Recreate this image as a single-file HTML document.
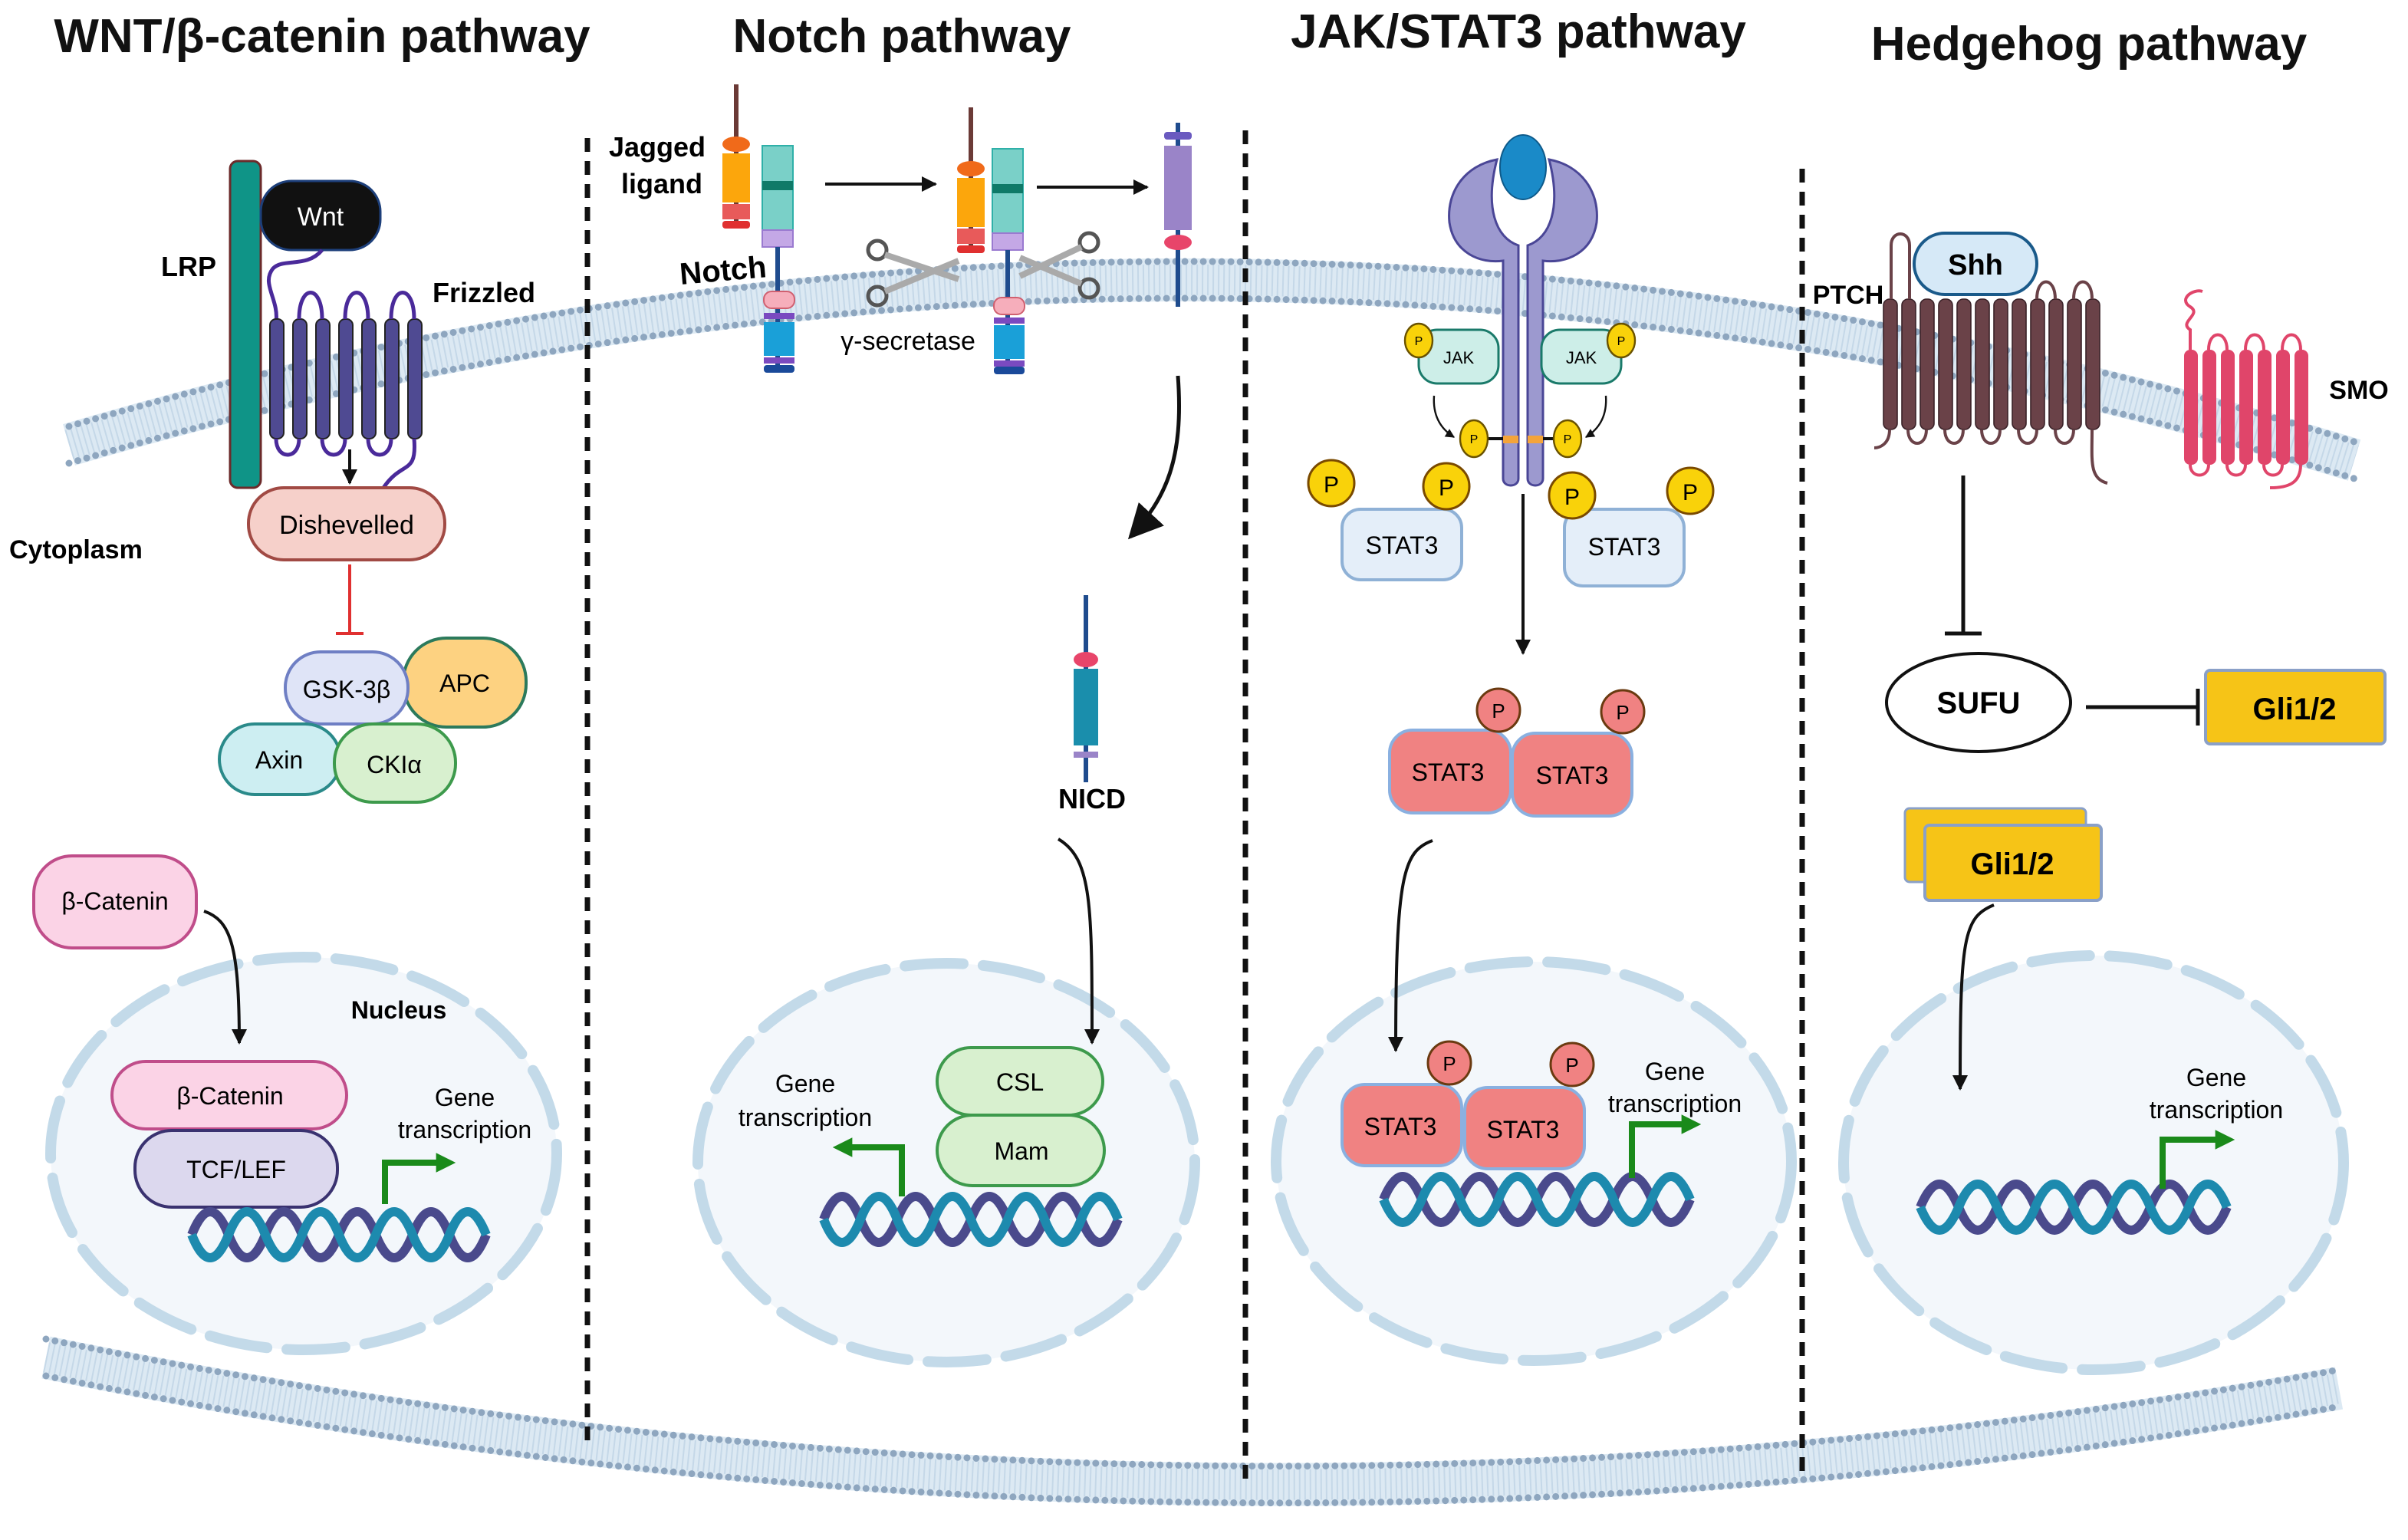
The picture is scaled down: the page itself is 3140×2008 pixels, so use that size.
<!DOCTYPE html>
<html><head><meta charset="utf-8"><style>
html,body{margin:0;padding:0;background:#fff}
svg{display:block}
text{font-family:"Liberation Sans",sans-serif}
</style></head><body>
<svg width="3140" height="2008" viewBox="0 0 1570 1004" xmlns="http://www.w3.org/2000/svg">
<defs>
<marker id="ah" viewBox="0 0 10 10" refX="9" refY="5" markerWidth="5" markerHeight="5" orient="auto"><path d="M0,0L10,5L0,10z" fill="#111"/></marker>
<marker id="ahb" viewBox="0 0 10 10" refX="9" refY="5" markerWidth="9" markerHeight="9" orient="auto"><path d="M0,0L10,5L0,10z" fill="#111"/></marker>
<marker id="ag" viewBox="0 0 10 10" refX="6" refY="5" markerWidth="3.2" markerHeight="3.2" orient="auto"><path d="M0,0L10,5L0,10z" fill="#1a8a1a"/></marker>
</defs>

<!-- membranes -->
<g fill="none">
<path d="M45,290 Q790,70 1535,300" stroke="#dce9f3" stroke-width="28"/>
<path d="M45,290 Q790,70 1535,300" stroke="#c5d8e8" stroke-width="20" stroke-dasharray="1 2.5"/>
<path d="M45,278 Q790,58 1535,288" stroke="#8ea6bf" stroke-width="4.5" stroke-dasharray="0 6" stroke-linecap="round"/>
<path d="M45,302 Q790,82 1535,312" stroke="#8ea6bf" stroke-width="4.5" stroke-dasharray="0 6" stroke-linecap="round"/>
<path d="M30,885 Q790,1040 1525,905" stroke="#dce9f3" stroke-width="28"/>
<path d="M30,885 Q790,1040 1525,905" stroke="#c5d8e8" stroke-width="20" stroke-dasharray="1 2.5"/>
<path d="M30,873 Q790,1028 1525,893" stroke="#8ea6bf" stroke-width="4.5" stroke-dasharray="0 6" stroke-linecap="round"/>
<path d="M30,897 Q790,1052 1525,917" stroke="#8ea6bf" stroke-width="4.5" stroke-dasharray="0 6" stroke-linecap="round"/>
</g>

<!-- dashed separators -->
<g stroke="#111" stroke-width="3.5" stroke-dasharray="9 6">
<line x1="383" y1="90" x2="383" y2="940"/>
<line x1="812" y1="85" x2="812" y2="965"/>
<line x1="1175" y1="110" x2="1175" y2="965"/>
</g>

<!-- titles -->
<g font-weight="bold" font-size="31" text-anchor="middle" fill="#111">
<text x="210" y="34">WNT/β-catenin pathway</text>
<text x="588" y="34">Notch pathway</text>
<text x="990" y="31">JAK/STAT3 pathway</text>
<text x="1362" y="39">Hedgehog pathway</text>
</g>

<!-- nuclei -->
<g fill="#f3f7fb" stroke="#c3dae9" stroke-width="7" stroke-dasharray="38 13" stroke-linecap="round">
<ellipse cx="198" cy="752" rx="165" ry="128"/>
<ellipse cx="617" cy="758" rx="162" ry="130"/>
<ellipse cx="1000" cy="757" rx="168" ry="130"/>
<ellipse cx="1365" cy="758" rx="163" ry="135"/>
</g>

<!-- ===== WNT ===== -->
<rect x="150" y="105" width="20" height="213" rx="5" fill="#0f9487" stroke="#6b2a2a" stroke-width="1.5"/>
<rect x="170" y="118" width="78" height="45" rx="20" fill="#111" stroke="#1d3f7a" stroke-width="1.5"/>
<text x="209" y="147" font-size="17" fill="#fff" text-anchor="middle">Wnt</text>
<path d="M210,163 C200,175 185,168 178,175 C170,185 182,195 180,210" fill="none" stroke="#4a2a9a" stroke-width="2.5"/>
<g fill="#4f4a92" stroke="#222" stroke-width="1">
<rect x="176" y="208" width="9" height="78" rx="4"/>
<rect x="191" y="208" width="9" height="78" rx="4"/>
<rect x="206" y="208" width="9" height="78" rx="4"/>
<rect x="221" y="208" width="9" height="78" rx="4"/>
<rect x="236" y="208" width="9" height="78" rx="4"/>
<rect x="251" y="208" width="9" height="78" rx="4"/>
<rect x="266" y="208" width="9" height="78" rx="4"/>
</g>
<g fill="none" stroke="#4a2a9a" stroke-width="2.5">
<path d="M195,208 C195,185 210,185 210,208"/>
<path d="M225,208 C225,185 240,185 240,208"/>
<path d="M255,208 C255,185 270,185 270,208"/>
<path d="M180,286 C180,300 195,300 195,286"/>
<path d="M210,286 C210,300 225,300 225,286"/>
<path d="M240,286 C240,300 255,300 255,286"/>
<path d="M270,286 C272,310 262,300 250,318"/>
</g>
<text x="123" y="180" font-size="18" font-weight="bold" text-anchor="middle">LRP</text>
<text x="282" y="197" font-size="18" font-weight="bold">Frizzled</text>
<text x="6" y="364" font-size="17" font-weight="bold">Cytoplasm</text>
<line x1="228" y1="293" x2="228" y2="315" stroke="#111" stroke-width="2" marker-end="url(#ah)"/>
<rect x="162" y="318" width="128" height="47" rx="23" fill="#f6d0ca" stroke="#a14a44" stroke-width="2"/>
<text x="226" y="348" font-size="17" text-anchor="middle">Dishevelled</text>
<line x1="228" y1="368" x2="228" y2="413" stroke="#e03030" stroke-width="2"/>
<line x1="219" y1="413" x2="237" y2="413" stroke="#e03030" stroke-width="2"/>
<rect x="263" y="416" width="80" height="58" rx="28" fill="#fdd281" stroke="#2c7a5c" stroke-width="2"/>
<text x="303" y="451" font-size="16" text-anchor="middle">APC</text>
<rect x="186" y="425" width="80" height="47" rx="23" fill="#dfe4f7" stroke="#6f7fc4" stroke-width="2"/>
<text x="226" y="455" font-size="16" text-anchor="middle">GSK-3β</text>
<rect x="143" y="472" width="79" height="46" rx="23" fill="#cdeef2" stroke="#2a8a8a" stroke-width="2"/>
<text x="182" y="501" font-size="16" text-anchor="middle">Axin</text>
<rect x="218" y="472" width="79" height="51" rx="25" fill="#d8f0cf" stroke="#3d9a4c" stroke-width="2"/>
<text x="257" y="504" font-size="16" text-anchor="middle">CKIα</text>
<rect x="22" y="558" width="106" height="60" rx="25" fill="#fbd3e6" stroke="#c04d8a" stroke-width="2"/>
<text x="75" y="593" font-size="16" text-anchor="middle">β-Catenin</text>
<path d="M133,594 C150,600 156,615 156,680" fill="none" stroke="#111" stroke-width="2" marker-end="url(#ah)"/>
<text x="260" y="664" font-size="16" font-weight="bold" text-anchor="middle">Nucleus</text>
<rect x="73" y="692" width="153" height="44" rx="22" fill="#fbd3e6" stroke="#c04d8a" stroke-width="2"/>
<text x="150" y="720" font-size="16" text-anchor="middle">β-Catenin</text>
<rect x="88" y="737" width="132" height="50" rx="24" fill="#dcd8ee" stroke="#3a3270" stroke-width="2"/>
<text x="154" y="768" font-size="16" text-anchor="middle">TCF/LEF</text>
<text x="303" y="721" font-size="16" text-anchor="middle">Gene</text>
<text x="303" y="742" font-size="16" text-anchor="middle">transcription</text>
<path d="M251,785 V758 H292" fill="none" stroke="#1a8a1a" stroke-width="4" marker-end="url(#ag)"/>

<!-- DNA -->
<g fill="none" stroke-width="6">
<path d="M125,805 q12,-30 24,0 t24,0 t24,0 t24,0 t24,0 t24,0 t24,0 t24,0" stroke="#4a4a8c"/>
<path d="M125,805 q12,30 24,0 t24,0 t24,0 t24,0 t24,0 t24,0 t24,0 t24,0" stroke="#1d8aae"/>
<path d="M537,795 q12,-30 24,0 t24,0 t24,0 t24,0 t24,0 t24,0 t24,0 t24,0" stroke="#4a4a8c"/>
<path d="M537,795 q12,30 24,0 t24,0 t24,0 t24,0 t24,0 t24,0 t24,0 t24,0" stroke="#1d8aae"/>
<path d="M902,782 q12.5,-30 25,0 t25,0 t25,0 t25,0 t25,0 t25,0 t25,0 t25,0" stroke="#4a4a8c"/>
<path d="M902,782 q12.5,30 25,0 t25,0 t25,0 t25,0 t25,0 t25,0 t25,0 t25,0" stroke="#1d8aae"/>
<path d="M1252,787 q12.5,-30 25,0 t25,0 t25,0 t25,0 t25,0 t25,0 t25,0 t25,0" stroke="#4a4a8c"/>
<path d="M1252,787 q12.5,30 25,0 t25,0 t25,0 t25,0 t25,0 t25,0 t25,0 t25,0" stroke="#1d8aae"/>
</g>

<!-- ===== NOTCH ===== -->
<text x="460" y="102" font-size="18" font-weight="bold" text-anchor="end">Jagged</text>
<text x="458" y="126" font-size="18" font-weight="bold" text-anchor="end">ligand</text>
<text x="472" y="183" font-size="20" font-weight="bold" text-anchor="middle" transform="rotate(-5 472 183)">Notch</text>
<text x="592" y="228" font-size="17" text-anchor="middle">γ-secretase</text>
<line x1="480" y1="55" x2="480" y2="148" stroke="#6b3a36" stroke-width="3"/>
<ellipse cx="480" cy="94" rx="9" ry="5" fill="#f06a1a"/>
<rect x="471" y="100" width="18" height="32" fill="#fca60c"/>
<rect x="471" y="133" width="18" height="10" fill="#e85a5a"/>
<rect x="471" y="144" width="18" height="5" rx="2" fill="#e03030"/>
<rect x="497" y="95" width="20" height="60" fill="#7ad0c8" stroke="#2fb0a8"/>
<rect x="497" y="118" width="20" height="6" fill="#0f7a68"/>
<rect x="497" y="150" width="20" height="11" fill="#c4a8e6" stroke="#9a7ad0"/>
<line x1="507" y1="161" x2="507" y2="243" stroke="#1f4c8e" stroke-width="3"/>
<rect x="498" y="190" width="20" height="11" rx="5" fill="#f6aebb" stroke="#d06070"/>
<rect x="498" y="204" width="20" height="4" fill="#7a4ac0"/>
<rect x="498" y="210" width="20" height="22" fill="#1aa0d8"/>
<rect x="498" y="233" width="20" height="4" fill="#7a4ac0"/>
<rect x="498" y="238" width="20" height="5" rx="2" fill="#1a4a9a"/>
<line x1="538" y1="120" x2="610" y2="120" stroke="#111" stroke-width="2" marker-end="url(#ah)"/>
<line x1="633" y1="70" x2="633" y2="165" stroke="#6b3a36" stroke-width="3"/>
<ellipse cx="633" cy="110" rx="9" ry="5" fill="#f06a1a"/>
<rect x="624" y="116" width="18" height="32" fill="#fca60c"/>
<rect x="624" y="149" width="18" height="10" fill="#e85a5a"/>
<rect x="624" y="160" width="18" height="5" rx="2" fill="#e03030"/>
<rect x="647" y="97" width="20" height="60" fill="#7ad0c8" stroke="#2fb0a8"/>
<rect x="647" y="120" width="20" height="6" fill="#0f7a68"/>
<rect x="647" y="152" width="20" height="11" fill="#c4a8e6" stroke="#9a7ad0"/>
<line x1="657" y1="163" x2="657" y2="243" stroke="#1f4c8e" stroke-width="3"/>
<rect x="648" y="194" width="20" height="11" rx="5" fill="#f6aebb" stroke="#d06070"/>
<rect x="648" y="207" width="20" height="4" fill="#7a4ac0"/>
<rect x="648" y="212" width="20" height="22" fill="#1aa0d8"/>
<rect x="648" y="235" width="20" height="4" fill="#7a4ac0"/>
<rect x="648" y="239" width="20" height="5" rx="2" fill="#1a4a9a"/>
<g fill="none" stroke="#555" stroke-width="2.5">
<circle cx="572" cy="163" r="6"/><circle cx="572" cy="193" r="6"/>
<path d="M577,166 L625,182 M577,190 L625,170" stroke="#aaa" stroke-width="4"/>
<circle cx="710" cy="158" r="6"/><circle cx="710" cy="188" r="6"/>
<path d="M705,161 L665,180 M705,185 L665,168" stroke="#aaa" stroke-width="4"/>
</g>
<line x1="676" y1="122" x2="748" y2="122" stroke="#111" stroke-width="2" marker-end="url(#ah)"/>
<line x1="768" y1="80" x2="768" y2="200" stroke="#1f4c8e" stroke-width="3"/>
<rect x="759" y="86" width="18" height="5" rx="2" fill="#6a5ac0"/>
<rect x="759" y="95" width="18" height="55" fill="#9a84c8"/>
<ellipse cx="768" cy="158" rx="9" ry="5" fill="#e8456a"/>
<path d="M768,245 C772,300 760,325 737,350" fill="none" stroke="#111" stroke-width="2.5" marker-end="url(#ahb)"/>
<line x1="708" y1="388" x2="708" y2="510" stroke="#1f4c8e" stroke-width="3"/>
<ellipse cx="708" cy="430" rx="8" ry="5" fill="#e8456a"/>
<rect x="700" y="436" width="16" height="50" fill="#1a8eac"/>
<rect x="700" y="490" width="16" height="4" fill="#9a84c8"/>
<text x="712" y="527" font-size="18" font-weight="bold" text-anchor="middle">NICD</text>
<path d="M690,547 C712,560 712,590 712,680" fill="none" stroke="#111" stroke-width="2" marker-end="url(#ah)"/>
<rect x="611" y="683" width="108" height="44" rx="22" fill="#d8f0cf" stroke="#3d9a4c" stroke-width="2"/>
<text x="665" y="711" font-size="16" text-anchor="middle">CSL</text>
<rect x="611" y="727" width="109" height="46" rx="23" fill="#d8f0cf" stroke="#3d9a4c" stroke-width="2"/>
<text x="666" y="756" font-size="16" text-anchor="middle">Mam</text>
<text x="525" y="712" font-size="16" text-anchor="middle">Gene</text>
<text x="525" y="734" font-size="16" text-anchor="middle">transcription</text>
<path d="M588,780 V748 H548" fill="none" stroke="#1a8a1a" stroke-width="4" marker-end="url(#ag)"/>

<!-- ===== JAK/STAT3 ===== -->
<path d="M976,104 C955,108 943,125 945,145 C948,165 965,172 980,170 L980,312 C980,318 990,318 990,312 L990,160 C975,155 968,135 976,104 Z" fill="#9c99cf" stroke="#4a4696" stroke-width="1.5"/>
<path d="M1010,104 C1031,108 1043,125 1041,145 C1038,165 1021,172 1006,170 L1006,312 C1006,318 996,318 996,312 L996,160 C1011,155 1018,135 1010,104 Z" fill="#9c99cf" stroke="#4a4696" stroke-width="1.5"/>
<ellipse cx="993" cy="109" rx="15" ry="21" fill="#1a8ac8" stroke="#0e5a8a"/>
<rect x="980" y="284" width="10" height="5" fill="#f4a43a"/>
<rect x="996" y="284" width="10" height="5" fill="#f4a43a"/>
<line x1="966" y1="286" x2="980" y2="286" stroke="#111" stroke-width="2"/>
<line x1="1006" y1="286" x2="1020" y2="286" stroke="#111" stroke-width="2"/>
<rect x="925" y="215" width="52" height="35" rx="12" fill="#cdeee8" stroke="#1a7a6a" stroke-width="1.5"/>
<text x="951" y="237" font-size="11" text-anchor="middle">JAK</text>
<rect x="1005" y="215" width="52" height="35" rx="12" fill="#cdeee8" stroke="#1a7a6a" stroke-width="1.5"/>
<text x="1031" y="237" font-size="11" text-anchor="middle">JAK</text>
<g fill="#f9d20a" stroke="#6a5200" stroke-width="1.2">
<ellipse cx="925" cy="222" rx="9" ry="11"/><ellipse cx="1057" cy="222" rx="9" ry="11"/>
<ellipse cx="961" cy="286" rx="9" ry="12"/><ellipse cx="1022" cy="286" rx="9" ry="12"/>
</g>
<g font-size="8" text-anchor="middle"><text x="925" y="225">P</text><text x="1057" y="225">P</text><text x="961" y="289">P</text><text x="1022" y="289">P</text></g>
<path d="M935,258 C934,272 940,280 948,285" fill="none" stroke="#111" stroke-width="1.2" marker-end="url(#ah)"/>
<path d="M1047,258 C1048,272 1042,280 1034,285" fill="none" stroke="#111" stroke-width="1.2" marker-end="url(#ah)"/>
<rect x="875" y="332" width="78" height="46" rx="12" fill="#e4eef9" stroke="#8fb1d6" stroke-width="2"/>
<text x="914" y="361" font-size="16" text-anchor="middle">STAT3</text>
<rect x="1020" y="332" width="78" height="50" rx="12" fill="#e4eef9" stroke="#8fb1d6" stroke-width="2"/>
<text x="1059" y="362" font-size="16" text-anchor="middle">STAT3</text>
<g fill="#f9d20a" stroke="#7a4a00" stroke-width="1.5">
<circle cx="868" cy="315" r="15"/><circle cx="943" cy="317" r="15"/><circle cx="1025" cy="323" r="15"/><circle cx="1102" cy="320" r="15"/>
</g>
<g font-size="15" text-anchor="middle"><text x="868" y="321">P</text><text x="943" y="323">P</text><text x="1025" y="329">P</text><text x="1102" y="326">P</text></g>
<line x1="993" y1="322" x2="993" y2="426" stroke="#111" stroke-width="2" marker-end="url(#ah)"/>
<g fill="#f08282" stroke="#8ab0e0" stroke-width="2">
<rect x="906" y="476" width="79" height="54" rx="15"/><rect x="986" y="478" width="78" height="54" rx="15"/>
<rect x="875" y="707" width="78" height="53" rx="15"/><rect x="955" y="709" width="78" height="53" rx="15"/>
</g>
<g font-size="16" text-anchor="middle"><text x="944" y="509">STAT3</text><text x="1025" y="511">STAT3</text><text x="913" y="740">STAT3</text><text x="993" y="742">STAT3</text></g>
<g fill="#f08282" stroke="#6a3a10" stroke-width="1.5">
<circle cx="977" cy="463" r="14"/><circle cx="1058" cy="464" r="14"/><circle cx="945" cy="693" r="14"/><circle cx="1025" cy="694" r="14"/>
</g>
<g font-size="13" text-anchor="middle"><text x="977" y="468">P</text><text x="1058" y="469">P</text><text x="945" y="698">P</text><text x="1025" y="699">P</text></g>
<path d="M934,548 C915,555 910,570 910,685" fill="none" stroke="#111" stroke-width="2" marker-end="url(#ah)"/>
<text x="1092" y="704" font-size="16" text-anchor="middle">Gene</text>
<text x="1092" y="725" font-size="16" text-anchor="middle">transcription</text>
<path d="M1064,768 V733 H1104" fill="none" stroke="#1a8a1a" stroke-width="4" marker-end="url(#ag)"/>

<!-- ===== HEDGEHOG ===== -->
<text x="1205" y="198" font-size="17" font-weight="bold" text-anchor="middle">PTCH</text>
<g fill="#6a4248" stroke="#3a2228" stroke-width="0.8">
<rect x="1228" y="195" width="9" height="85" rx="4"/><rect x="1240" y="195" width="9" height="85" rx="4"/>
<rect x="1252" y="195" width="9" height="85" rx="4"/><rect x="1264" y="195" width="9" height="85" rx="4"/>
<rect x="1276" y="195" width="9" height="85" rx="4"/><rect x="1288" y="195" width="9" height="85" rx="4"/>
<rect x="1300" y="195" width="9" height="85" rx="4"/><rect x="1312" y="195" width="9" height="85" rx="4"/>
<rect x="1324" y="195" width="9" height="85" rx="4"/><rect x="1336" y="195" width="9" height="85" rx="4"/>
<rect x="1348" y="195" width="9" height="85" rx="4"/><rect x="1360" y="195" width="9" height="85" rx="4"/>
</g>
<g fill="none" stroke="#6a4248" stroke-width="2">
<path d="M1233,195 V160 C1233,150 1245,150 1245,160 V195"/>
<path d="M1328,195 C1328,180 1340,180 1340,195"/><path d="M1352,195 C1352,180 1364,180 1364,195"/>
<path d="M1244,280 C1244,292 1256,292 1256,280"/><path d="M1268,280 C1268,292 1280,292 1280,280"/>
<path d="M1292,280 C1292,292 1304,292 1304,280"/><path d="M1316,280 C1316,292 1328,292 1328,280"/>
<path d="M1340,280 C1340,292 1352,292 1352,280"/><path d="M1232,280 C1232,290 1225,292 1222,292"/>
<path d="M1364,280 C1364,300 1362,312 1374,315"/>
</g>
<rect x="1248" y="152" width="80" height="40" rx="20" fill="#d6e9f7" stroke="#1a5a8a" stroke-width="2"/>
<text x="1288" y="179" font-size="19" font-weight="bold" text-anchor="middle">Shh</text>
<g fill="#e0456a">
<rect x="1424" y="228" width="9" height="75" rx="4"/><rect x="1436" y="228" width="9" height="75" rx="4"/>
<rect x="1448" y="228" width="9" height="75" rx="4"/><rect x="1460" y="228" width="9" height="75" rx="4"/>
<rect x="1472" y="228" width="9" height="75" rx="4"/><rect x="1484" y="228" width="9" height="75" rx="4"/>
<rect x="1496" y="228" width="9" height="75" rx="4"/>
</g>
<g fill="none" stroke="#e0456a" stroke-width="2">
<path d="M1428,228 V215 C1420,210 1436,205 1428,200 C1420,195 1430,188 1436,190"/>
<path d="M1440,228 C1440,215 1452,215 1452,228"/><path d="M1464,228 C1464,215 1476,215 1476,228"/><path d="M1488,228 C1488,215 1500,215 1500,228"/>
<path d="M1428,303 C1428,312 1440,312 1440,303"/><path d="M1452,303 C1452,312 1464,312 1464,303"/><path d="M1476,303 C1476,312 1488,312 1488,303"/>
<path d="M1500,303 C1500,315 1492,318 1480,318"/>
</g>
<text x="1538" y="260" font-size="17" font-weight="bold" text-anchor="middle">SMO</text>
<line x1="1280" y1="310" x2="1280" y2="412" stroke="#111" stroke-width="2.5"/>
<line x1="1268" y1="413" x2="1292" y2="413" stroke="#111" stroke-width="2.5"/>
<ellipse cx="1290" cy="458" rx="60" ry="32" fill="#fff" stroke="#111" stroke-width="2"/>
<text x="1290" y="465" font-size="20" font-weight="bold" text-anchor="middle">SUFU</text>
<line x1="1360" y1="461" x2="1433" y2="461" stroke="#111" stroke-width="2.5"/>
<line x1="1433" y1="449" x2="1433" y2="473" stroke="#111" stroke-width="2.5"/>
<rect x="1438" y="437" width="117" height="48" rx="3" fill="#f6c417" stroke="#8aa0c8" stroke-width="2"/>
<text x="1496" y="469" font-size="20" font-weight="bold" text-anchor="middle">Gli1/2</text>
<rect x="1242" y="527" width="118" height="48" rx="3" fill="#f6c417" stroke="#8aa0c8" stroke-width="1.5"/>
<rect x="1255" y="538" width="115" height="49" rx="3" fill="#f6c417" stroke="#8aa0c8" stroke-width="2"/>
<text x="1312" y="570" font-size="20" font-weight="bold" text-anchor="middle">Gli1/2</text>
<path d="M1300,590 C1280,598 1278,612 1278,710" fill="none" stroke="#111" stroke-width="2" marker-end="url(#ah)"/>
<text x="1445" y="708" font-size="16" text-anchor="middle">Gene</text>
<text x="1445" y="729" font-size="16" text-anchor="middle">transcription</text>
<path d="M1410,775 V743 H1452" fill="none" stroke="#1a8a1a" stroke-width="4" marker-end="url(#ag)"/>
</svg>
</body></html>
